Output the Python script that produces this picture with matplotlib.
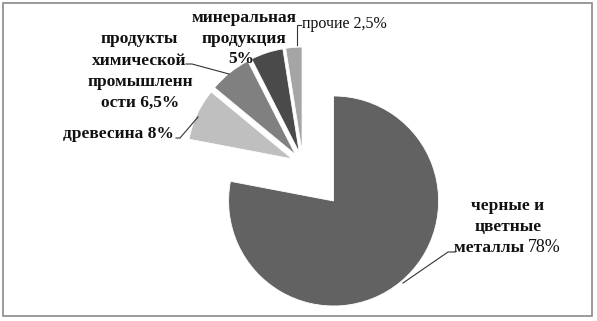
import matplotlib
matplotlib.use("Agg")
import matplotlib.pyplot as plt
from matplotlib.patches import Rectangle

categories = ["черные и цветные металлы", "древесина", "продукты химической промышленности",
              "минеральная продукция", "прочие"]
values = [78, 8, 6.5, 5, 2.5]
colors = ["#626262", "#bfbfbf", "#808080", "#4a4a4a", "#a5a5a5"]

W, H = 597, 321
fig = plt.figure(figsize=(W / 100, H / 100), dpi=100)
ax = fig.add_axes([0, 0, 1, 1])

R = 105
cx, cy = 303, H - 164
# explode offsets (pie uses data units here)
explode = [48, 12, 12, 12, 12]
ax.pie(values, colors=colors, explode=explode, startangle=90, counterclock=False,
       radius=R, center=(cx, cy), wedgeprops=dict(edgecolor="white", linewidth=0.6))
ax.set_xlim(0, W)
ax.set_ylim(0, H)
ax.set_aspect("auto")
ax.axis("off")

# frame
ax.add_patch(Rectangle((3, H - 316), 589, 313, fill=False, edgecolor="#8a8a8a", linewidth=1.2))

serif = ["Liberation Serif", "DejaVu Serif"]
fs = 12.5

def t(x, y, s, ha="center", weight="bold", size=fs, color="#111111"):
    ax.text(x, H - y, s, ha=ha, va="center", fontsize=size, fontweight=weight,
            family=serif, color=color)

# минеральная продукция 5%
t(244, 18, "минеральная")
t(244, 39, "продукция")
t(241, 59, "5%")

# прочие 2,5%
t(302, 24, "прочие 2,5%", ha="left", weight="normal", size=11.5)
ax.plot([301, 297, 297], [H - 25, H - 25, H - 45], color="#333333", lw=0.8)

# продукты химической промышленности 6,5%
t(139, 39, "продукты")
t(139, 61, "химической")
t(140, 82, "промышленн")
t(140, 103, "ости 6,5%")
ax.plot([186, 192, 229], [H - 64, H - 64, H - 74], color="#333333", lw=0.8)

# древесина 8%
t(174, 134, "древесина 8%", ha="right")
ax.plot([176, 180, 198], [H - 138, H - 138, H - 117], color="#333333", lw=0.8)

# черные и цветные металлы 78%
t(508, 206, "черные и")
t(508, 227, "цветные")
t(528, 248, "металлы ", ha="right")
t(528, 248, "78%", ha="left", weight="normal", size=13)
ax.plot([455, 448, 403], [H - 252, H - 252, H - 283], color="#333333", lw=0.8)

fig.savefig("out.png", dpi=100)
